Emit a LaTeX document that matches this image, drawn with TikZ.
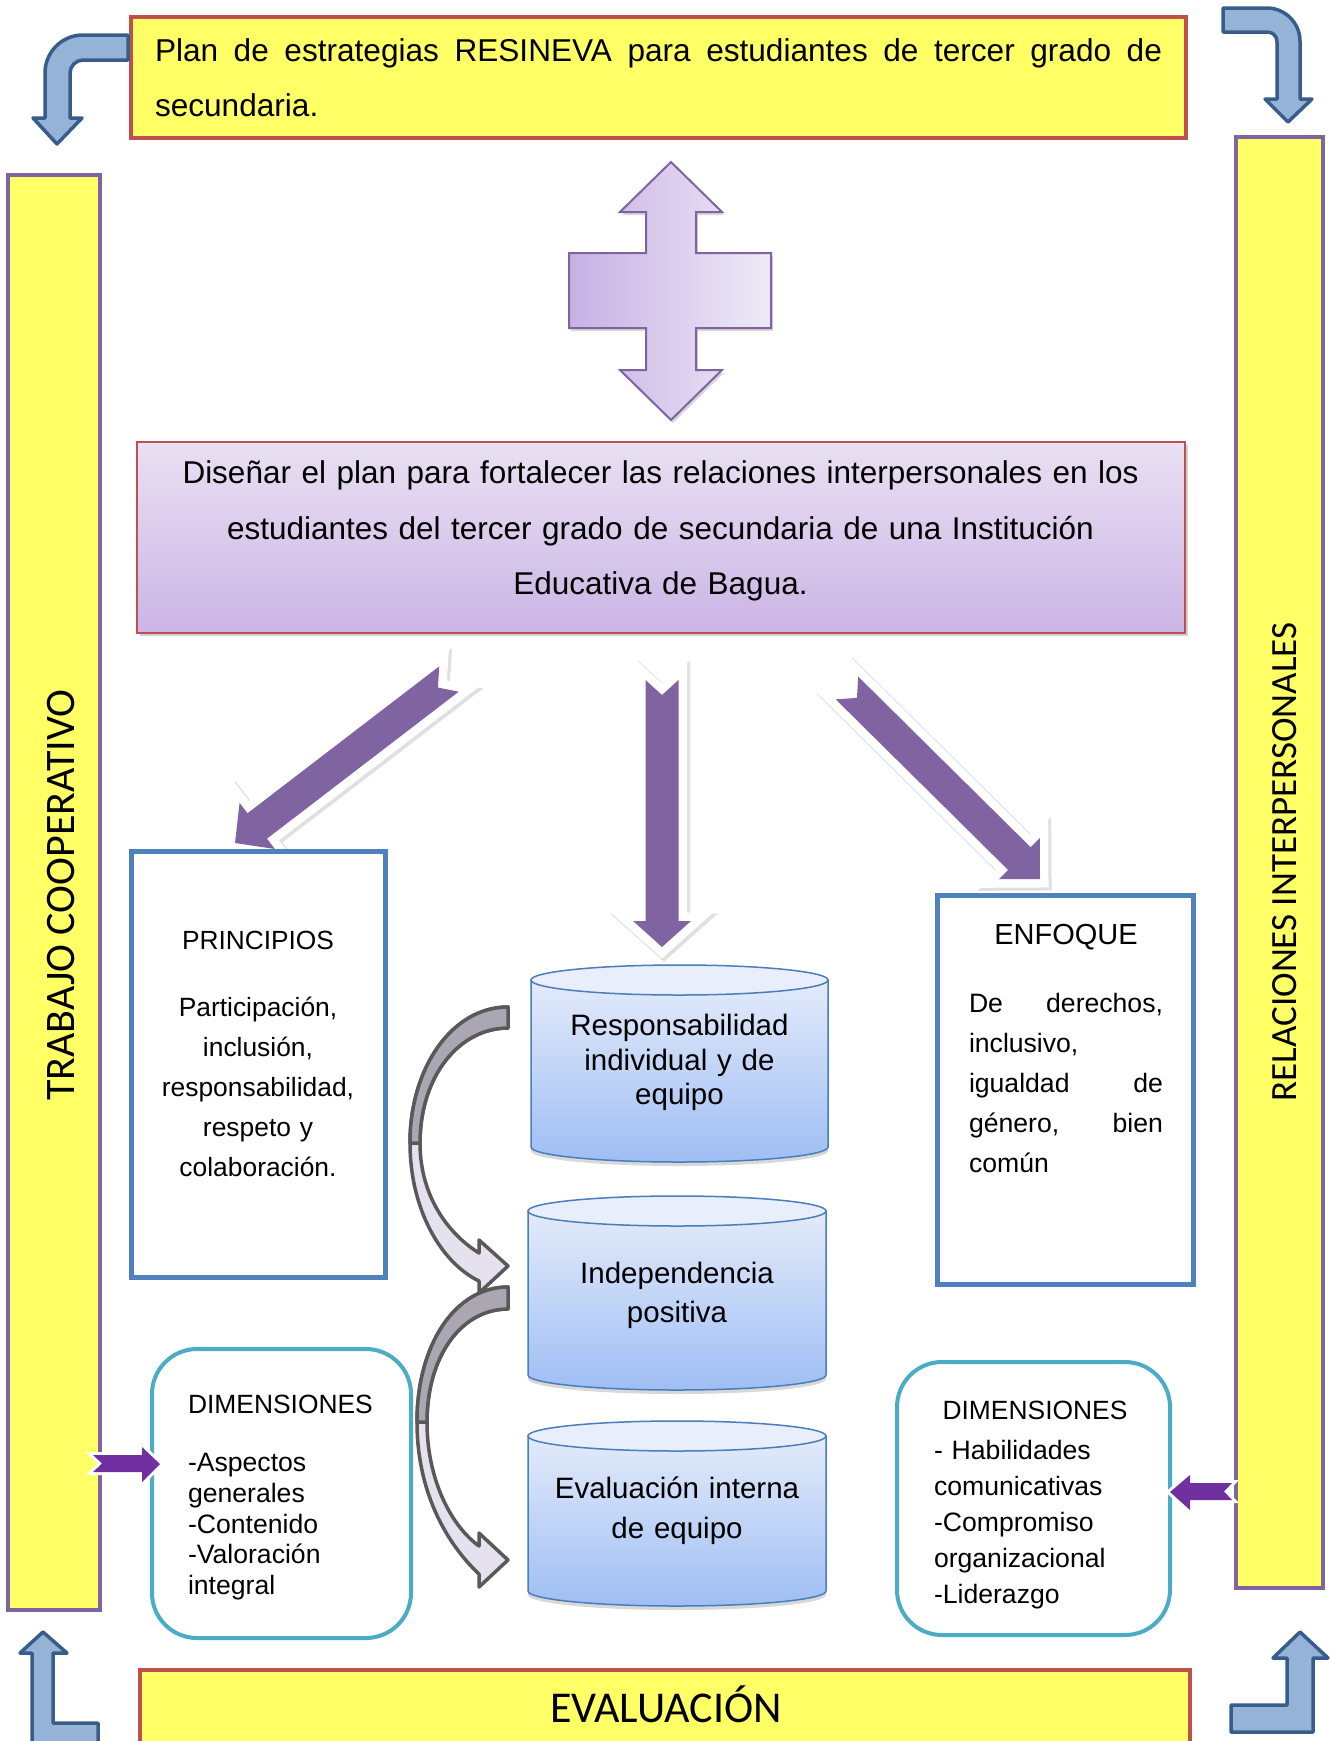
\documentclass[tikz,border=0pt]{standalone}
\usepackage{fontspec}
\setmainfont{Liberation Sans}
\newfontfamily\carl{Carlito}
\usetikzlibrary{calc,shadows}
\definecolor{yel}{HTML}{FFFF66}
\definecolor{redb}{HTML}{C0504D}
\definecolor{purb}{HTML}{8064A2}
\definecolor{blueb}{HTML}{4F81BD}
\definecolor{teal2}{HTML}{4BACC6}
\definecolor{darkp}{HTML}{7030A0}
\definecolor{bentfill}{HTML}{95B3D7}
\definecolor{bentdraw}{HTML}{385D8A}
\definecolor{cyldraw}{HTML}{4A7EBB}
\definecolor{cyltop}{HTML}{E3EBFA}
\definecolor{cylbot}{HTML}{9FBEF4}
\definecolor{cylcapc}{HTML}{E8EEFB}
\definecolor{curvd}{HTML}{595959}
\definecolor{curvdark}{HTML}{AAA7B2}
\definecolor{curvlight}{HTML}{E6E1EE}
\definecolor{midtop}{HTML}{E9E0F3}
\definecolor{midbot}{HTML}{CBB5E5}
\definecolor{crossl}{HTML}{C6B1E4}
\definecolor{crossr}{HTML}{EFEAF7}
\newcommand{\myfs}[2]{\fontsize{#1}{#2}\selectfont}
\newcommand{\jline}[2]{\leavevmode\hbox to #1{#2}}
% block arrow: style, tail, tip, shaft half, head half, head length, notch
\newcommand{\blockarrow}[7]{%
  \coordinate (bahead) at ($(#3)!#6!(#2)$);
  \path[#1] ($(#2)!#4!90:(#3)$) -- ($(bahead)!#4!90:(#3)$) -- ($(bahead)!#5!90:(#3)$) -- (#3)
    -- ($(bahead)!#5!-90:(#3)$) -- ($(bahead)!#4!-90:(#3)$) -- ($(#2)!#4!-90:(#3)$)
    -- ($(#2)!#7!(#3)$) -- cycle;}
% cylinder: center x, x radius, top y, bottom y
\newcommand{\mycyl}[4]{%
  \path[cylbody] ({#1-#2},#3) -- ({#1-#2},#4)
    .. controls ({#1-#2},#4+8.3) and ({#1-0.5523*#2},#4+15) .. (#1,#4+15)
    .. controls ({#1+0.5523*#2},#4+15) and ({#1+#2},#4+8.3) .. ({#1+#2},#4)
    -- ({#1+#2},#3) -- cycle;
  \path[cylcap] (#1,#3) ellipse [x radius=#2pt, y radius=15pt];}
\begin{document}
\begin{tikzpicture}[x=1pt,y=-1pt,
  ybox/.style={draw=redb,line width=4.5pt,fill=yel,inner sep=0pt},
  ybar/.style={draw=purb,line width=4pt,fill=yel,inner sep=0pt},
  bbox/.style={draw=blueb,line width=5pt,fill=white,inner sep=0pt},
  dbox/.style={draw=teal2,line width=4pt,fill=white,rounded corners=45pt,inner sep=0pt},
  bigarr/.style={fill=purb,
    preaction={draw=black!12,line width=19pt,line join=miter,transform canvas={xshift=2pt,yshift=-2pt}},
    preaction={draw=white,line width=17pt,line join=miter}},
  smallarr/.style={fill=darkp,preaction={draw=white,line width=6pt,line join=miter}},
  bent/.style={fill=bentfill,draw=bentdraw,line width=3.5pt,line join=round},
  cylbody/.style={draw=cyldraw,line width=1.5pt,top color=cyltop,bottom color=cylbot,drop shadow={opacity=0.3,shadow xshift=0pt,shadow yshift=-4pt}},
  cylcap/.style={draw=cyldraw,line width=1.5pt,fill=cylcapc},
  curv/.style={draw=curvd,line width=3.5pt,line join=round},
  txt/.style={inner sep=0pt,outer sep=0pt}
]
\useasboundingbox (0,0) rectangle (1330,1741);
\fill[white] (0,0) rectangle (1330,1741);

% side bars
\node[ybar,minimum width=92pt,minimum height=1435pt] (leftbar) at (54,892.5) {};
\node[ybar,minimum width=87pt,minimum height=1451pt] (rightbar) at (1279.5,862.5) {};
\node[txt,rotate=90,font=\carl\myfs{42}{42}] (lefttext) at (61,895) {TRABAJO COOPERATIVO};
\node[txt,rotate=90,font=\carl\myfs{37}{37}] (righttext) at (1285,862) {RELACIONES INTERPERSONALES};

% top box
\node[ybox,minimum width=1055pt,minimum height=121pt] (plan) at (658.5,77.5) {};
\node[txt,anchor=base west,text width=1007pt,align=left,font=\myfs{31.6}{55.5}] (plantext) at (155,61)
  {\jline{1007pt}{Plan \hfill de \hfill estrategias \hfill RESINEVA \hfill para \hfill estudiantes \hfill de \hfill tercer \hfill grado \hfill de}\\secundaria.};

% cross arrow
\path[draw=purb,line width=2pt,left color=crossl,right color=crossr,drop shadow={opacity=0.3,shadow xshift=2pt,shadow yshift=-3pt}]
  (671,162) -- (722,212) -- (696,212) -- (696,253) -- (771,253) -- (771,328) -- (696,328) -- (696,370)
  -- (722,370) -- (671,420) -- (620,370) -- (646,370) -- (646,328) -- (569,328) -- (569,253)
  -- (646,253) -- (646,212) -- (620,212) -- cycle;

% goal box
\node[draw=redb,line width=1.5pt,top color=midtop,bottom color=midbot,minimum width=1048pt,minimum height=191pt,inner sep=0pt,drop shadow={opacity=0.35,shadow xshift=3pt,shadow yshift=-3pt}] (goal) at (661,537.5) {};
\node[txt,anchor=base,text width=1040pt,align=center,font=\myfs{31.5}{55.5}] (goaltext) at (660.5,483.5)
  {Diseñar el plan para fortalecer las relaciones interpersonales en los\\estudiantes del tercer grado de secundaria de una Institución\\Educativa de Bagua.};

% big purple arrows
\coordinate (aLt) at (449,679); \coordinate (aLh) at (235,843);
\coordinate (aMt) at (662,680); \coordinate (aMh) at (662,947);
\coordinate (aRt) at (847,688); \coordinate (aRh) at (1040,879);
\blockarrow{bigarr}{aLt}{aLh}{16pt}{29pt}{28pt}{14pt}
\blockarrow{bigarr}{aMt}{aMh}{16.5pt}{29pt}{26pt}{15pt}
\blockarrow{bigarr}{aRt}{aRh}{16pt}{29pt}{29pt}{14pt}

% principios
\node[bbox,minimum width=254pt,minimum height=426pt] (principios) at (258,1064) {};
\node[txt,anchor=base,font=\myfs{26.3}{30}] (principiosh) at (258,949.5) {PRINCIPIOS};
\node[txt,anchor=base,text width=240pt,align=center,font=\myfs{26.4}{40}] (principiost) at (258,1016.5)
  {Participación,\\inclusión,\\responsabilidad,\\respeto y\\colaboración.};

% enfoque
\node[bbox,minimum width=256pt,minimum height=389pt] (enfoque) at (1065,1089.5) {};
\node[txt,anchor=base,font=\myfs{29}{30}] (enfoqueh) at (1066,944.5) {ENFOQUE};
\node[txt,anchor=base west,text width=194pt,align=left,font=\myfs{26.6}{40}] (enfoquet) at (969,1012)
  {\jline{194pt}{De \hfill derechos,}\\inclusivo,\\\jline{194pt}{igualdad \hfill de}\\\jline{194pt}{género, \hfill bien}\\común};

% cylinders
\mycyl{679.5}{148.5}{980}{1147}
\mycyl{677}{149}{1211}{1375}
\mycyl{677}{149}{1436}{1591}
\node[txt,anchor=base,text width=290pt,align=center,font=\myfs{29.5}{34.5}] (cyl1) at (679.5,1035.5)
  {Responsabilidad\\individual y de\\equipo};
\node[txt,anchor=base,text width=290pt,align=center,font=\myfs{29.5}{39}] (cyl2) at (677,1283.5)
  {Independencia\\positiva};
\node[txt,anchor=base,text width=290pt,align=center,font=\myfs{29.5}{40}] (cyl3) at (677,1498.5)
  {Evaluación interna\\de equipo};

% curved arrows
\path[curv,fill=curvlight] (508,1007) .. controls (452,1007) and (410,1068) .. (410,1143)
  .. controls (410,1208) and (440,1262) .. (479,1281) -- (479,1293) -- (508,1266) -- (479,1240) -- (479,1253)
  .. controls (447,1233) and (420,1195) .. (420,1143) .. controls (420,1075) and (460,1028) .. (508,1028) -- cycle;
\path[curv,fill=curvdark] (508,1007) .. controls (452,1007) and (410,1068) .. (410,1143)
  -- (420,1143) .. controls (420,1075) and (460,1028) .. (508,1028) -- cycle;
\path[curv,fill=curvlight] (508,1287) .. controls (455,1287) and (417,1345) .. (417,1422)
  .. controls (417,1490) and (445,1542) .. (479,1574) -- (479,1587) -- (508,1560) -- (479,1533) -- (479,1546)
  .. controls (450,1525) and (427,1478) .. (427,1422) .. controls (427,1355) and (462,1309) .. (508,1309) -- cycle;
\path[curv,fill=curvdark] (508,1287) .. controls (455,1287) and (417,1345) .. (417,1422)
  -- (427,1422) .. controls (427,1355) and (462,1309) .. (508,1309) -- cycle;

% dimensiones
\node[dbox,minimum width=259pt,minimum height=289pt] (dimL) at (281.5,1493.5) {};
\node[txt,anchor=base west,font=\myfs{26.4}{30}] (dimLh) at (188,1413.5) {DIMENSIONES};
\node[txt,anchor=base west,text width=215pt,align=left,font=\myfs{26.6}{30.75}] (dimLt) at (188,1471.5)
  {-Aspectos\\generales\\-Contenido\\-Valoración\\integral};
\node[dbox,minimum width=273pt,minimum height=273pt] (dimR) at (1033.5,1498.5) {};
\node[txt,anchor=base,font=\myfs{26.4}{30}] (dimRh) at (1035,1419.5) {DIMENSIONES};
\node[txt,anchor=base west,text width=230pt,align=left,font=\myfs{26.6}{36}] (dimRt) at (934,1459.5)
  {- Habilidades\\comunicativas\\-Compromiso\\organizacional\\-Liderazgo};

% small purple arrows
\path[smallarr] (93,1455) -- (142,1455) -- (142,1447) -- (160,1464) -- (142,1482) -- (142,1472) -- (93,1472) -- (102,1463.5) -- cycle;
\path[smallarr] (1232,1483) -- (1190,1483) -- (1190,1475) -- (1170,1492) -- (1190,1510) -- (1190,1500) -- (1232,1500) -- (1224,1491.5) -- cycle;

% evaluacion
\node[ybox,minimum width=1050pt,minimum height=100pt] (evaluacion) at (665,1720) {};
\node[txt,anchor=base,font=\carl\myfs{44}{44}] (evaltext) at (666,1722) {EVALUACIÓN};

% bent corner arrows
\path[bent] (128,35) -- (83,35) .. controls (62,35) and (45,52) .. (45,73) -- (45,118) -- (33,118) -- (57,144)
  -- (82,118) -- (70,118) -- (70,73) .. controls (70,66) and (76,60) .. (83,60) -- (128,60) -- cycle;
\path[bent] (1223,8) -- (1267,8) .. controls (1285,8) and (1300,23) .. (1300,41) -- (1300,99) -- (1312,99)
  -- (1288,122) -- (1265,99) -- (1277,99) -- (1277,42) .. controls (1277,36) and (1273,32) .. (1267,32) -- (1223,32) -- cycle;
\path[bent] (43,1632) -- (67,1653) -- (53,1653) -- (53,1723) -- (98,1723) -- (98,1750) -- (32,1750) -- (32,1653) -- (20,1653) -- cycle;
\path[bent] (1300,1632) -- (1328,1658) -- (1313,1658) -- (1313,1732) -- (1231,1732) -- (1231,1705) -- (1287,1705) -- (1287,1658) -- (1273,1658) -- cycle;
\end{tikzpicture}
\end{document}
